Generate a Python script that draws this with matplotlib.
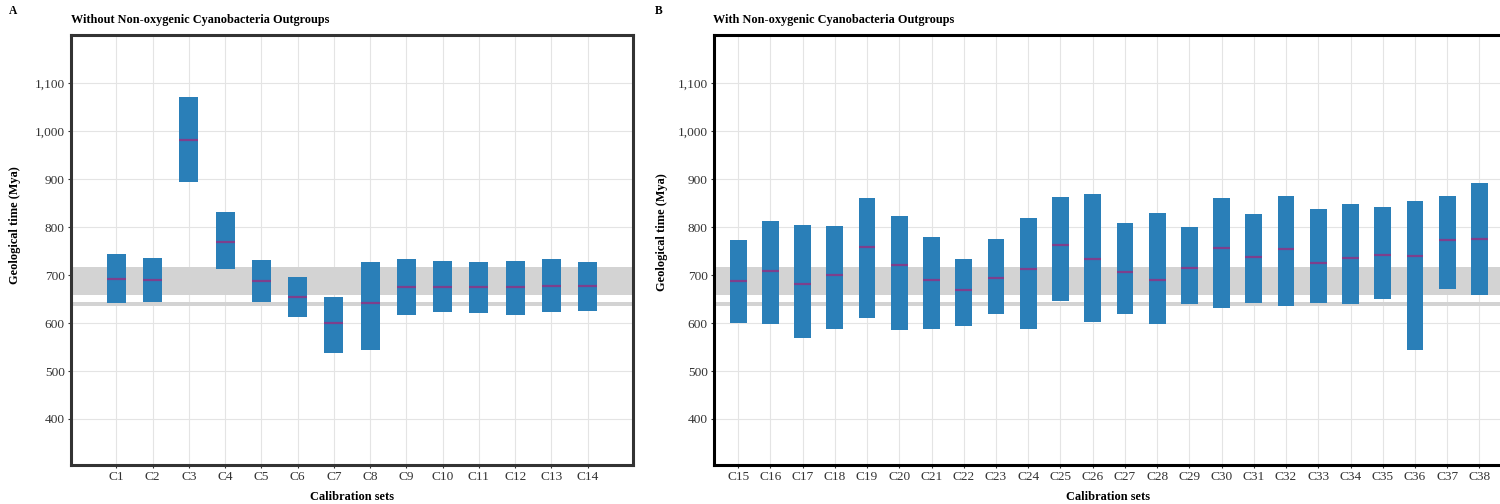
import matplotlib
matplotlib.use("Agg")
import matplotlib.pyplot as plt
from matplotlib.ticker import FuncFormatter

plt.rcParams['font.family'] = ['Liberation Serif', 'DejaVu Serif']

# ---- data ----
sets_a = [f"C{i}" for i in range(1, 15)]
upper_a = [744, 735, 1072, 832, 731, 696, 654, 727, 733, 729, 727, 729, 733, 727]
median_a = [692, 690, 981, 770, 688, 655, 601, 642, 676, 676, 676, 676, 678, 678]
lower_a = [642, 644, 895, 713, 644, 613, 538, 544, 617, 623, 621, 617, 623, 625]

sets_b = [f"C{i}" for i in range(15, 39)]
upper_b = [773, 813, 804, 802, 861, 823, 779, 733, 775, 819, 863, 869, 809, 829,
           800, 861, 827, 865, 838, 848, 842, 855, 865, 892]
median_b = [688, 709, 681, 701, 759, 722, 690, 669, 694, 713, 763, 734, 707, 690,
            715, 757, 738, 755, 726, 736, 742, 740, 774, 776]
lower_b = [600, 598, 569, 588, 611, 586, 588, 594, 619, 588, 646, 602, 619, 598,
           640, 632, 642, 636, 642, 640, 650, 544, 671, 659]

bands = [(659, 717), (635, 644)]
yticks = [400, 500, 600, 700, 800, 900, 1000, 1100]

title_a = "Without Non-oxygenic Cyanobacteria Outgroups"
title_b = "With Non-oxygenic Cyanobacteria Outgroups"
xlabel = "Calibration sets"
ylabel = "Geological time (Mya)"

BAR = '#2A7FB8'
MED = '#7E3F8C'
BAND = '#D3D3D3'
GRID = '#E4E4E4'

W, H = 1500, 504
fig = plt.figure(figsize=(W / 100, H / 100), dpi=100)


def px_axes(left, right, top, bottom):
    return fig.add_axes([left / W, 1 - bottom / H, (right - left) / W, (bottom - top) / H])


def draw(ax, cats, lo, med, hi, xlim, spine_col):
    x = list(range(len(cats)))
    width = 0.52
    heights = [h - l for h, l in zip(hi, lo)]
    for b0, b1 in bands:
        ax.axhspan(b0, b1, color=BAND, lw=0, zorder=1)
    ax.bar(x, heights, bottom=lo, width=width, color=BAR, lw=0, zorder=2)
    ax.hlines(med, [i - width / 2 for i in x], [i + width / 2 for i in x],
              colors=MED, lw=1.6, zorder=3)
    ax.set_xlim(*xlim)
    ax.set_ylim(304, 1201)
    ax.set_xticks(x)
    ax.set_xticklabels(cats)
    ax.set_yticks(yticks)
    ax.yaxis.set_major_formatter(FuncFormatter(lambda v, p: f"{int(v):,}"))
    ax.grid(True, color=GRID, lw=0.8, zorder=0)
    ax.set_axisbelow(True)
    for s in ax.spines.values():
        s.set_color(spine_col)
        s.set_linewidth(2.2)
    ax.tick_params(axis='both', direction='out', length=2.5, width=0.8,
                   color='#333333', labelcolor='#333333', labelsize=9.6, pad=2)


axA = px_axes(71, 633, 35, 465)
draw(axA, sets_a, lower_a, median_a, upper_a, (-1.25, 14.25), '#333333')

axB = px_axes(714, 1503.6, 35, 465)
draw(axB, sets_b, lower_b, median_b, upper_b, (-0.75, 23.75), '#000000')


def ftext(xp, yp, s, **kw):
    fig.text(xp / W, 1 - yp / H, s, **kw)


ftext(9, 11, "A", fontsize=8.3, fontweight='bold', va='center', ha='left')
ftext(71, 20, title_a, fontsize=8.85, fontweight='bold', va='center', ha='left')
ftext(655, 11, "B", fontsize=8.3, fontweight='bold', va='center', ha='left')
ftext(713, 20, title_b, fontsize=8.85, fontweight='bold', va='center', ha='left')

ftext(352, 497, xlabel, fontsize=8.9, fontweight='bold', va='center', ha='center')
ftext(1108, 497, xlabel, fontsize=8.9, fontweight='bold', va='center', ha='center')
ftext(15, 225, ylabel, fontsize=8.9, fontweight='bold', va='center', ha='center', rotation=90)
ftext(662, 232, ylabel, fontsize=8.9, fontweight='bold', va='center', ha='center', rotation=90)

fig.savefig("out.png", dpi=100)
